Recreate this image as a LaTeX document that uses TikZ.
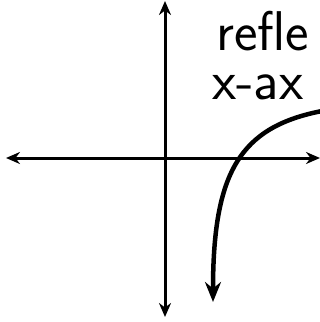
\documentclass[tikz,border=0pt]{standalone}
\usepackage{tikz}
\usetikzlibrary{arrows.meta}
\tikzstyle{axis} = [line width=3pt,{Stealth[length=14pt,width=12pt]}-{Stealth[length=14pt,width=12pt]}]
\tikzstyle{curve} = [line width=4.5pt,-{Stealth[length=20pt,width=16pt]}]
\tikzstyle{hand} = [font=\sffamily\fontsize{56}{49}\selectfont,align=left,anchor=north west,inner sep=0pt]

\begin{document}
\begin{tikzpicture}[x=1pt,y=-1pt]
\useasboundingbox (0,0) rectangle (320,322);
\clip (0,0) rectangle (320,322);
\coordinate (top) at (165,1);
\coordinate (bottom) at (165,317);
\coordinate (left) at (6,158);
\coordinate (right) at (320,158);
\coordinate (start) at (322,111);
\coordinate (end) at (213,302);

\draw [axis] (bottom) -- (top);
\draw [axis] (left) -- (right);

\draw [curve] (start) .. controls (240,127) and (213,172) .. (end);

\node (note) [hand] at (212,11) {\hspace*{4pt}refle\\x-ax};
\end{tikzpicture}
\end{document}
